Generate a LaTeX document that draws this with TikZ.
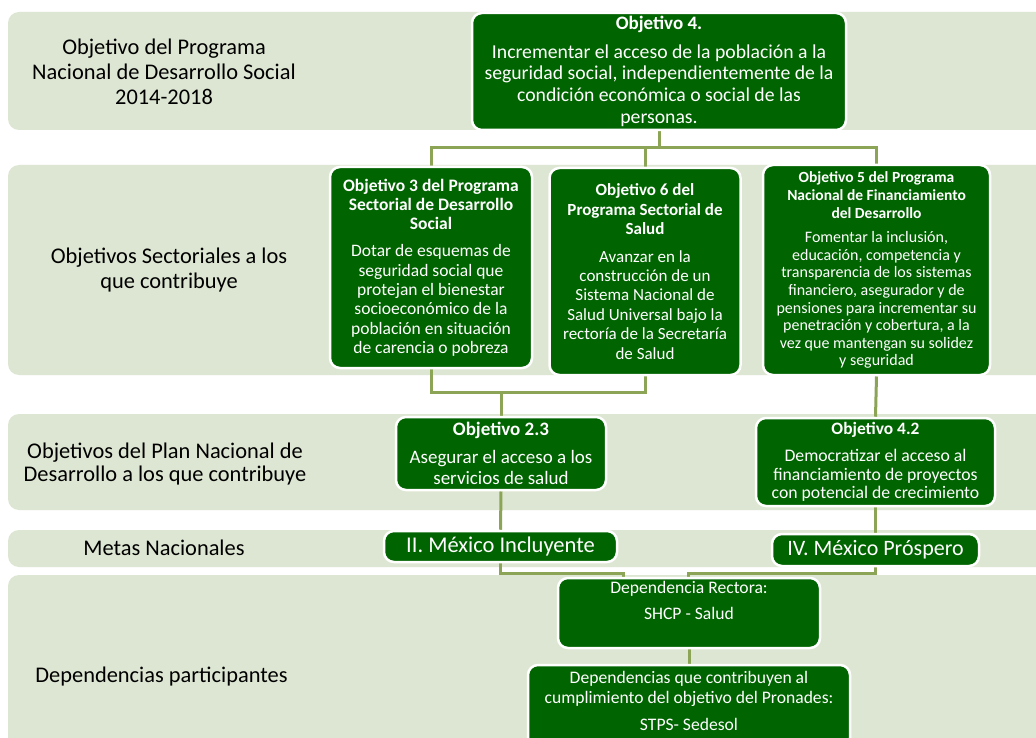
\documentclass[tikz,border=0pt]{standalone}
\usepackage{fontspec}
\setmainfont{Carlito}
\usetikzlibrary{calc}
\definecolor{bandcol}{RGB}{221,230,210}
\definecolor{dkgreen}{RGB}{0,100,0}
\definecolor{linkcol}{RGB}{140,164,85}
\pgfdeclarelayer{bg}
\pgfdeclarelayer{mid}
\pgfsetlayers{bg,mid,main}
\tikzset{
  band/.style={fill=bandcol, draw=none, rounded corners=11pt},
  gbox/.style={draw=white, line width=2.5pt, fill=dkgreen, rounded corners=10pt,
    text=white, align=center, inner sep=0pt},
  btext/.style={text=white, align=center, inner sep=0pt},
  lbl/.style={text=black, align=center, inner sep=0pt},
  link/.style={draw=linkcol, line width=3pt},
}
\begin{document}
\begin{tikzpicture}[x=1pt,y=-1pt]
\useasboundingbox (0,0) rectangle (1036,738);
% bands
\begin{pgfonlayer}{bg}
\fill[white] (0,0) rectangle (1036,738);
\path[band] (8,12) rectangle (1050,130);
\path[band] (8,165) rectangle (1050,375);
\path[band] (8,414) rectangle (1050,510);
\path[band] (8,530) rectangle (1050,567);
\path[band] (8,575) rectangle (1050,760);
\end{pgfonlayer}
% left labels
\node[lbl, font=\fontsize{22.4}{25}\selectfont] (l1) at (164,72)
  {Objetivo del Programa\\Nacional de Desarrollo Social\\2014-2018};
\node[lbl, font=\fontsize{22.4}{25}\selectfont] (l2) at (169,270)
  {Objetivos Sectoriales a los\\que contribuye};
\node[lbl, font=\fontsize{22.4}{22.5}\selectfont] (l3) at (165,464)
  {Objetivos del Plan Nacional de\\Desarrollo a los que contribuye};
\node[lbl, font=\fontsize{22.4}{25}\selectfont] (l4) at (164,548) {Metas Nacionales};
\node[lbl, font=\fontsize{22.4}{25}\selectfont] (l5) at (161.5,677) {Dependencias participantes};
% boxes
\node[gbox, minimum width=374pt, minimum height=117pt, font=\fontsize{19.7}{21.7}\selectfont] (top) at (659,71.5)
  {\textbf{\fontsize{19}{21}\selectfont Objetivo 4.}\\[6.5pt]
   Incrementar el acceso de la población a la\\
   seguridad social, independientemente de la\\
   condición económica o social de las\\
   personas.};
\node[gbox, minimum width=202pt, minimum height=201pt, font=\fontsize{17.5}{19.3}\selectfont] (o3) at (431,267.5)
  {\textbf{Objetivo 3 del Programa}\\
   \textbf{Sectorial de Desarrollo}\\
   \textbf{Social}\\[8pt]
   Dotar de esquemas de\\
   seguridad social que\\
   protejan el bienestar\\
   socioeconómico de la\\
   población en situación\\
   de carencia o pobreza};
\node[gbox, minimum width=191pt, minimum height=207pt, font=\fontsize{17}{19.4}\selectfont] (o6) at (645,271.5)
  {\textbf{Objetivo 6 del}\\
   \textbf{Programa Sectorial de}\\
   \textbf{Salud}\\[8pt]
   Avanzar en la\\
   construcción de un\\
   Sistema Nacional de\\
   Salud Universal bajo la\\
   rectoría de la Secretaría\\
   de Salud};
\node[gbox, minimum width=227pt, minimum height=210pt, font=\fontsize{16}{17.6}\selectfont] (o5) at (876.5,270)
  {\textbf{\fontsize{15.5}{17.6}\selectfont Objetivo 5 del Programa}\\[0.4pt]
   \textbf{\fontsize{15.5}{17.6}\selectfont Nacional de Financiamiento}\\[0.4pt]
   \textbf{\fontsize{15.5}{17.6}\selectfont del Desarrollo}\\[7pt]
   Fomentar la inclusión,\\
   educación, competencia y\\
   transparencia de los sistemas\\
   financiero, asegurador y de\\
   pensiones para incrementar su\\
   penetración y cobertura, a la\\
   vez que mantengan su solidez\\
   y seguridad};
\node[gbox, minimum width=210pt, minimum height=73pt, font=\fontsize{19}{21.3}\selectfont] (o23) at (501,453.5)
  {\textbf{Objetivo 2.3}\\[7pt]
   Asegurar el acceso a los\\
   servicios de salud};
\node[gbox, minimum width=239pt, minimum height=88pt, font=\fontsize{17.7}{18.8}\selectfont] (o42) at (875.5,462)
  {\textbf{\fontsize{17.4}{18.8}\selectfont Objetivo 4.2}\\[8pt]
   Democratizar el acceso al\\
   financiamiento de proyectos\\
   con potencial de crecimiento};
\node[gbox, minimum width=233pt, minimum height=31pt, font=\fontsize{22.5}{25}\selectfont] (mx2) at (500.5,546.5)
  {II. México Incluyente};
\node[gbox, minimum width=207pt, minimum height=32pt, font=\fontsize{22}{25}\selectfont] (mx4) at (875.5,550)
  {IV. México Próspero};
\node[gbox, minimum width=262pt, minimum height=70pt] (rect) at (689,613) {};
\node[btext, font=\fontsize{17.6}{20.5}\selectfont] (rect-t) at (689,600)
  {Dependencia Rectora:\\[5.5pt]
   SHCP - Salud};
\node[gbox, minimum width=322pt, minimum height=83pt] (deps) at (689,706.5) {};
\node[btext, font=\fontsize{17.6}{20}\selectfont] (deps-t) at (689,701)
  {Dependencias que contribuyen al\\
   cumplimiento del objetivo del Pronades:\\[7pt]
   STPS- Sedesol};
% connectors
\coordinate (j0) at (659,148);
\coordinate (j1) at (501,392);
\begin{pgfonlayer}{mid}
\draw[link] (top.south) -- (j0) -| (o3.north);
\draw[link] (j0) -| (o6.north);
\draw[link] (j0) -| (o5.north);
\draw[link] (o3.south) |- (j1) -- (o23.north);
\draw[link] (o6.south) |- (j1);
\draw[link] (o5.south) -- (o42.north);
\draw[link] (o23.south) -- (mx2.north);
\draw[link] (o42.south) -- (mx4.north);
\draw[link] (mx2.south) -- ++(0,10) -| ([xshift=-66pt]rect.north);
\draw[link] (mx4.south) -- ++(0,6) -| ([xshift=-1pt]rect.north);
\draw[link] (rect.south) -- (deps.north);
\end{pgfonlayer}
\end{tikzpicture}
\end{document}
